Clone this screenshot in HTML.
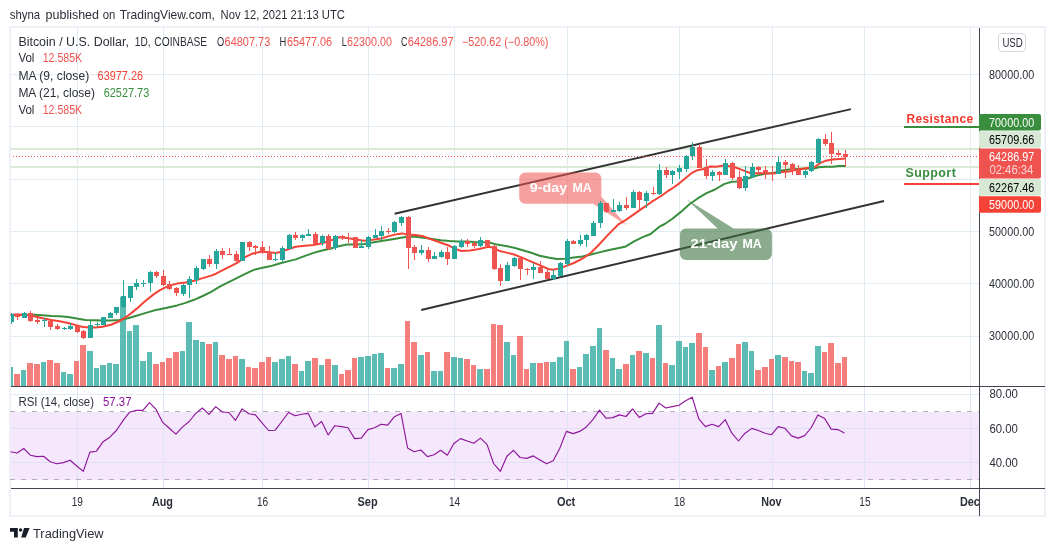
<!DOCTYPE html>
<html><head><meta charset="utf-8"><title>BTCUSD chart</title>
<style>html,body{margin:0;padding:0;background:#fff}svg{display:block}</style></head>
<body>
<svg width="1055" height="551" viewBox="0 0 1055 551" font-family="'Liberation Sans', sans-serif">
<rect width="1055" height="551" fill="#fff"/>
<rect x="10" y="27" width="1035" height="489" fill="#fff" stroke="#eef0f5" stroke-width="2"/>
<g shape-rendering="crispEdges">
<rect x="11" y="412" width="968" height="67.5" fill="#f5e8fd"/>
<rect x="77" y="28" width="1" height="358" fill="#e1ecf2"/>
<rect x="77" y="387" width="1" height="101" fill="#dfe3f3"/>
<rect x="163" y="28" width="1" height="358" fill="#e1ecf2"/>
<rect x="163" y="387" width="1" height="101" fill="#dfe3f3"/>
<rect x="262" y="28" width="1" height="358" fill="#e1ecf2"/>
<rect x="262" y="387" width="1" height="101" fill="#dfe3f3"/>
<rect x="368" y="28" width="1" height="358" fill="#e1ecf2"/>
<rect x="368" y="387" width="1" height="101" fill="#dfe3f3"/>
<rect x="454" y="28" width="1" height="358" fill="#e1ecf2"/>
<rect x="454" y="387" width="1" height="101" fill="#dfe3f3"/>
<rect x="567" y="28" width="1" height="358" fill="#e1ecf2"/>
<rect x="567" y="387" width="1" height="101" fill="#dfe3f3"/>
<rect x="679" y="28" width="1" height="358" fill="#e1ecf2"/>
<rect x="679" y="387" width="1" height="101" fill="#dfe3f3"/>
<rect x="772" y="28" width="1" height="358" fill="#e1ecf2"/>
<rect x="772" y="387" width="1" height="101" fill="#dfe3f3"/>
<rect x="864" y="28" width="1" height="358" fill="#e1ecf2"/>
<rect x="864" y="387" width="1" height="101" fill="#dfe3f3"/>
<rect x="970" y="28" width="1" height="358" fill="#e1ecf2"/>
<rect x="970" y="387" width="1" height="101" fill="#dfe3f3"/>
<rect x="11" y="74" width="968" height="1" fill="#e1ecf2"/>
<rect x="11" y="126" width="968" height="1" fill="#e1ecf2"/>
<rect x="11" y="179" width="968" height="1" fill="#e1ecf2"/>
<rect x="11" y="231" width="968" height="1" fill="#e1ecf2"/>
<rect x="11" y="283" width="968" height="1" fill="#e1ecf2"/>
<rect x="11" y="336" width="968" height="1" fill="#e1ecf2"/>
<rect x="11" y="394" width="968" height="1" fill="#e1ecf2"/>
<rect x="11" y="428" width="968" height="1" fill="#dfe0f5"/>
<rect x="11" y="462" width="968" height="1" fill="#dfe0f5"/>
</g>
<line x1="10" y1="411.5" x2="979" y2="411.5" stroke="#b0b0b6" stroke-width="1" stroke-dasharray="5 6" shape-rendering="crispEdges"/>
<line x1="10" y1="479.5" x2="979" y2="479.5" stroke="#b0b0b6" stroke-width="1" stroke-dasharray="5 6" shape-rendering="crispEdges"/>
<rect x="11" y="148" width="968" height="2" fill="#d9ead5"/>
<rect x="11" y="166" width="968" height="2" fill="#d9ead5"/>
<line x1="394.6" y1="213.8" x2="851" y2="109.1" stroke="#333" stroke-width="2"/>
<line x1="421.2" y1="310" x2="884" y2="201" stroke="#333" stroke-width="2"/>
<path d="M525.2 172.6 H595.4 a6 6 0 0 1 6 6 V196.8 L626.8 225.6 L593.2 203.8 H525.2 a6 6 0 0 1 -6 -6 V178.6 a6 6 0 0 1 6 -6 Z" fill="rgba(239,83,80,0.55)"/>
<path d="M685.9 228.5 H717.7 L686.5 199.3 L733.6 228.5 H765.9 a6 6 0 0 1 6 6 V254.1 a6 6 0 0 1 -6 6 H685.9 a6 6 0 0 1 -6 -6 V234.5 a6 6 0 0 1 6 -6 Z" fill="rgba(56,112,60,0.59)"/>
<text x="529.8" y="191.8" font-size="12" font-weight="bold" fill="#fff" textLength="37.4" lengthAdjust="spacingAndGlyphs">9-day</text>
<text x="572.4" y="191.8" font-size="12" font-weight="bold" fill="#fff" textLength="19.4" lengthAdjust="spacingAndGlyphs">MA</text>
<text x="690.4" y="247.7" font-size="12" font-weight="bold" fill="#fff" textLength="47.2" lengthAdjust="spacingAndGlyphs">21-day</text>
<text x="742.5" y="247.7" font-size="12" font-weight="bold" fill="#fff" textLength="19.3" lengthAdjust="spacingAndGlyphs">MA</text>
<g shape-rendering="crispEdges">
<rect x="11" y="367" width="2" height="19" fill="rgba(38,166,154,0.75)"/>
<rect x="14" y="374" width="6" height="12" fill="rgba(239,83,80,0.75)"/>
<rect x="21" y="370" width="5" height="16" fill="rgba(38,166,154,0.75)"/>
<rect x="27" y="363" width="6" height="23" fill="rgba(239,83,80,0.75)"/>
<rect x="34" y="364" width="6" height="22" fill="rgba(239,83,80,0.75)"/>
<rect x="41" y="362" width="5" height="24" fill="rgba(38,166,154,0.75)"/>
<rect x="47" y="360" width="6" height="26" fill="rgba(239,83,80,0.75)"/>
<rect x="54" y="363" width="6" height="23" fill="rgba(239,83,80,0.75)"/>
<rect x="61" y="372" width="5" height="14" fill="rgba(38,166,154,0.75)"/>
<rect x="67" y="374" width="6" height="12" fill="rgba(38,166,154,0.75)"/>
<rect x="74" y="361" width="5" height="25" fill="rgba(239,83,80,0.75)"/>
<rect x="80" y="345" width="6" height="41" fill="rgba(239,83,80,0.75)"/>
<rect x="87" y="351" width="6" height="35" fill="rgba(38,166,154,0.75)"/>
<rect x="94" y="368" width="5" height="18" fill="rgba(38,166,154,0.75)"/>
<rect x="100" y="365" width="6" height="21" fill="rgba(38,166,154,0.75)"/>
<rect x="107" y="363" width="5" height="23" fill="rgba(38,166,154,0.75)"/>
<rect x="113" y="364" width="6" height="22" fill="rgba(38,166,154,0.75)"/>
<rect x="120" y="297" width="6" height="89" fill="rgba(38,166,154,0.75)"/>
<rect x="127" y="331" width="5" height="55" fill="rgba(38,166,154,0.75)"/>
<rect x="133" y="325" width="6" height="61" fill="rgba(38,166,154,0.75)"/>
<rect x="140" y="361" width="6" height="25" fill="rgba(38,166,154,0.75)"/>
<rect x="147" y="352" width="5" height="34" fill="rgba(38,166,154,0.75)"/>
<rect x="153" y="364" width="6" height="22" fill="rgba(239,83,80,0.75)"/>
<rect x="160" y="362" width="5" height="24" fill="rgba(239,83,80,0.75)"/>
<rect x="166" y="358" width="6" height="28" fill="rgba(239,83,80,0.75)"/>
<rect x="173" y="352" width="6" height="34" fill="rgba(239,83,80,0.75)"/>
<rect x="180" y="351" width="5" height="35" fill="rgba(38,166,154,0.75)"/>
<rect x="186" y="322" width="6" height="64" fill="rgba(38,166,154,0.75)"/>
<rect x="193" y="340" width="6" height="46" fill="rgba(38,166,154,0.75)"/>
<rect x="200" y="342" width="5" height="44" fill="rgba(38,166,154,0.75)"/>
<rect x="206" y="344" width="6" height="42" fill="rgba(239,83,80,0.75)"/>
<rect x="213" y="342" width="5" height="44" fill="rgba(38,166,154,0.75)"/>
<rect x="219" y="355" width="6" height="31" fill="rgba(239,83,80,0.75)"/>
<rect x="226" y="359" width="6" height="27" fill="rgba(239,83,80,0.75)"/>
<rect x="233" y="356" width="5" height="30" fill="rgba(239,83,80,0.75)"/>
<rect x="239" y="359" width="6" height="27" fill="rgba(38,166,154,0.75)"/>
<rect x="246" y="367" width="5" height="19" fill="rgba(239,83,80,0.75)"/>
<rect x="252" y="368" width="6" height="18" fill="rgba(239,83,80,0.75)"/>
<rect x="259" y="362" width="6" height="24" fill="rgba(239,83,80,0.75)"/>
<rect x="266" y="357" width="5" height="29" fill="rgba(239,83,80,0.75)"/>
<rect x="272" y="362" width="6" height="24" fill="rgba(38,166,154,0.75)"/>
<rect x="279" y="359" width="6" height="27" fill="rgba(38,166,154,0.75)"/>
<rect x="286" y="356" width="5" height="30" fill="rgba(38,166,154,0.75)"/>
<rect x="292" y="364" width="6" height="22" fill="rgba(239,83,80,0.75)"/>
<rect x="299" y="371" width="5" height="15" fill="rgba(38,166,154,0.75)"/>
<rect x="305" y="361" width="6" height="25" fill="rgba(38,166,154,0.75)"/>
<rect x="312" y="358" width="6" height="28" fill="rgba(239,83,80,0.75)"/>
<rect x="319" y="365" width="5" height="21" fill="rgba(38,166,154,0.75)"/>
<rect x="325" y="359" width="6" height="27" fill="rgba(239,83,80,0.75)"/>
<rect x="332" y="365" width="6" height="21" fill="rgba(38,166,154,0.75)"/>
<rect x="339" y="374" width="5" height="12" fill="rgba(239,83,80,0.75)"/>
<rect x="345" y="370" width="6" height="16" fill="rgba(239,83,80,0.75)"/>
<rect x="352" y="358" width="5" height="28" fill="rgba(239,83,80,0.75)"/>
<rect x="358" y="357" width="6" height="29" fill="rgba(38,166,154,0.75)"/>
<rect x="365" y="356" width="6" height="30" fill="rgba(38,166,154,0.75)"/>
<rect x="372" y="354" width="5" height="32" fill="rgba(38,166,154,0.75)"/>
<rect x="378" y="353" width="6" height="33" fill="rgba(38,166,154,0.75)"/>
<rect x="385" y="368" width="5" height="18" fill="rgba(239,83,80,0.75)"/>
<rect x="391" y="368" width="6" height="18" fill="rgba(38,166,154,0.75)"/>
<rect x="398" y="364" width="6" height="22" fill="rgba(38,166,154,0.75)"/>
<rect x="405" y="321" width="5" height="65" fill="rgba(239,83,80,0.75)"/>
<rect x="411" y="342" width="6" height="44" fill="rgba(239,83,80,0.75)"/>
<rect x="418" y="355" width="6" height="31" fill="rgba(38,166,154,0.75)"/>
<rect x="425" y="352" width="5" height="34" fill="rgba(239,83,80,0.75)"/>
<rect x="431" y="371" width="6" height="15" fill="rgba(38,166,154,0.75)"/>
<rect x="438" y="371" width="5" height="15" fill="rgba(38,166,154,0.75)"/>
<rect x="444" y="352" width="6" height="34" fill="rgba(239,83,80,0.75)"/>
<rect x="451" y="357" width="6" height="29" fill="rgba(38,166,154,0.75)"/>
<rect x="458" y="358" width="5" height="28" fill="rgba(38,166,154,0.75)"/>
<rect x="464" y="359" width="6" height="27" fill="rgba(239,83,80,0.75)"/>
<rect x="471" y="365" width="5" height="21" fill="rgba(239,83,80,0.75)"/>
<rect x="477" y="369" width="6" height="17" fill="rgba(38,166,154,0.75)"/>
<rect x="484" y="369" width="6" height="17" fill="rgba(239,83,80,0.75)"/>
<rect x="491" y="324" width="5" height="62" fill="rgba(239,83,80,0.75)"/>
<rect x="497" y="325" width="6" height="61" fill="rgba(239,83,80,0.75)"/>
<rect x="504" y="342" width="6" height="44" fill="rgba(38,166,154,0.75)"/>
<rect x="511" y="355" width="5" height="31" fill="rgba(38,166,154,0.75)"/>
<rect x="517" y="336" width="6" height="50" fill="rgba(239,83,80,0.75)"/>
<rect x="524" y="369" width="5" height="17" fill="rgba(239,83,80,0.75)"/>
<rect x="530" y="363" width="6" height="23" fill="rgba(38,166,154,0.75)"/>
<rect x="537" y="363" width="6" height="23" fill="rgba(239,83,80,0.75)"/>
<rect x="544" y="362" width="5" height="24" fill="rgba(239,83,80,0.75)"/>
<rect x="550" y="362" width="6" height="24" fill="rgba(38,166,154,0.75)"/>
<rect x="557" y="357" width="6" height="29" fill="rgba(38,166,154,0.75)"/>
<rect x="564" y="341" width="5" height="45" fill="rgba(38,166,154,0.75)"/>
<rect x="570" y="369" width="6" height="17" fill="rgba(239,83,80,0.75)"/>
<rect x="577" y="367" width="5" height="19" fill="rgba(38,166,154,0.75)"/>
<rect x="583" y="354" width="6" height="32" fill="rgba(38,166,154,0.75)"/>
<rect x="590" y="346" width="6" height="40" fill="rgba(38,166,154,0.75)"/>
<rect x="597" y="328" width="5" height="58" fill="rgba(38,166,154,0.75)"/>
<rect x="603" y="350" width="6" height="36" fill="rgba(239,83,80,0.75)"/>
<rect x="610" y="358" width="5" height="28" fill="rgba(38,166,154,0.75)"/>
<rect x="616" y="369" width="6" height="17" fill="rgba(38,166,154,0.75)"/>
<rect x="623" y="364" width="6" height="22" fill="rgba(239,83,80,0.75)"/>
<rect x="630" y="355" width="5" height="31" fill="rgba(38,166,154,0.75)"/>
<rect x="636" y="351" width="6" height="35" fill="rgba(239,83,80,0.75)"/>
<rect x="643" y="353" width="6" height="33" fill="rgba(38,166,154,0.75)"/>
<rect x="650" y="358" width="5" height="28" fill="rgba(239,83,80,0.75)"/>
<rect x="656" y="325" width="6" height="61" fill="rgba(38,166,154,0.75)"/>
<rect x="663" y="363" width="5" height="23" fill="rgba(239,83,80,0.75)"/>
<rect x="669" y="365" width="6" height="21" fill="rgba(38,166,154,0.75)"/>
<rect x="676" y="341" width="6" height="45" fill="rgba(38,166,154,0.75)"/>
<rect x="683" y="347" width="5" height="39" fill="rgba(38,166,154,0.75)"/>
<rect x="689" y="343" width="6" height="43" fill="rgba(38,166,154,0.75)"/>
<rect x="696" y="333" width="6" height="53" fill="rgba(239,83,80,0.75)"/>
<rect x="703" y="347" width="5" height="39" fill="rgba(239,83,80,0.75)"/>
<rect x="709" y="370" width="6" height="16" fill="rgba(38,166,154,0.75)"/>
<rect x="716" y="366" width="5" height="20" fill="rgba(239,83,80,0.75)"/>
<rect x="722" y="362" width="6" height="24" fill="rgba(38,166,154,0.75)"/>
<rect x="729" y="358" width="6" height="28" fill="rgba(239,83,80,0.75)"/>
<rect x="736" y="344" width="5" height="42" fill="rgba(239,83,80,0.75)"/>
<rect x="742" y="342" width="6" height="44" fill="rgba(38,166,154,0.75)"/>
<rect x="749" y="351" width="5" height="35" fill="rgba(38,166,154,0.75)"/>
<rect x="755" y="370" width="6" height="16" fill="rgba(239,83,80,0.75)"/>
<rect x="762" y="367" width="6" height="19" fill="rgba(239,83,80,0.75)"/>
<rect x="769" y="359" width="5" height="27" fill="rgba(239,83,80,0.75)"/>
<rect x="775" y="355" width="6" height="31" fill="rgba(38,166,154,0.75)"/>
<rect x="782" y="357" width="6" height="29" fill="rgba(239,83,80,0.75)"/>
<rect x="789" y="361" width="5" height="25" fill="rgba(239,83,80,0.75)"/>
<rect x="795" y="362" width="6" height="24" fill="rgba(239,83,80,0.75)"/>
<rect x="802" y="371" width="5" height="15" fill="rgba(38,166,154,0.75)"/>
<rect x="808" y="373" width="6" height="13" fill="rgba(38,166,154,0.75)"/>
<rect x="815" y="346" width="6" height="40" fill="rgba(38,166,154,0.75)"/>
<rect x="822" y="352" width="5" height="34" fill="rgba(239,83,80,0.75)"/>
<rect x="828" y="343" width="6" height="43" fill="rgba(239,83,80,0.75)"/>
<rect x="835" y="363" width="6" height="23" fill="rgba(239,83,80,0.75)"/>
<rect x="842" y="357" width="5" height="29" fill="rgba(239,83,80,0.75)"/>
</g>
<line x1="11" y1="156.5" x2="979" y2="156.5" stroke="#ef5350" stroke-width="1" stroke-dasharray="1 2" stroke-dashoffset="1"/>
<polyline points="10.6,315.3 25.6,314.8 34.1,314.8 42.7,315.3 51.2,315.9 59.7,316.2 68.2,316.9 76.8,318.6 85.3,320.0 93.8,320.3 102.4,320.5 110.9,320.5 119.4,320.0 128.0,318.2 136.5,315.7 145.0,313.1 153.6,310.6 163.4,308.5 177.1,305.4 185.6,302.9 194.1,299.8 202.7,296.0 211.2,291.8 219.7,286.7 228.2,282.4 236.8,278.1 245.2,273.9 253.8,269.9 261.4,268.0 270.8,266.1 280.3,263.2 289.8,260.9 295.7,259.4 305.0,255.9 313.6,252.9 322.1,250.5 330.0,248.7 338.5,246.2 347.1,244.5 355.6,244.5 364.1,244.0 372.7,242.4 381.2,241.1 389.7,239.7 398.2,238.2 406.8,236.8 415.3,236.8 423.8,237.7 432.4,239.0 440.9,240.2 449.4,241.1 458.0,241.4 466.5,241.4 475.0,241.9 488.5,242.2 497.1,244.6 505.6,245.9 514.1,247.7 522.7,250.2 531.2,252.8 539.7,255.7 548.2,257.6 556.8,259.1 565.3,258.7 573.8,257.6 582.4,256.5 590.9,254.5 599.4,252.4 608.0,250.2 616.5,248.5 625.0,246.8 633.6,241.7 642.1,237.4 650.6,234.0 660.0,226.3 664.7,224.0 672.4,218.7 680.9,211.9 689.4,204.2 698.0,198.2 706.5,193.1 715.0,189.5 724.5,183.9 732.1,181.8 736.8,181.5 748.2,178.2 757.7,175.3 765.2,173.7 773.8,173.0 781.4,170.6 788.9,169.5 796.5,168.9 804.1,168.7 815.0,168.2 818.7,167.2 825.5,166.8 832.4,166.8 839.2,166.0 845.7,165.9" fill="none" stroke="#388e3c" stroke-width="2" stroke-linejoin="round"/>
<polyline points="10.6,314.8 17.1,314.5 25.6,314.8 34.1,316.2 42.7,318.2 51.2,320.0 59.7,321.3 68.2,323.0 76.8,325.4 81.9,326.8 88.7,327.6 95.5,327.6 102.4,326.8 110.9,324.7 119.4,321.3 128.0,315.7 136.5,308.9 145.0,301.2 153.6,294.4 160.0,290.1 168.5,285.8 177.1,283.6 185.6,282.4 194.1,280.7 202.7,278.1 211.2,275.6 215.9,273.7 226.3,268.4 236.7,263.2 245.2,257.1 251.9,253.8 259.5,252.1 267.0,251.9 275.6,253.1 280.3,252.1 286.0,250.0 295.7,246.7 305.0,245.7 313.6,244.9 322.1,243.2 330.6,240.6 338.5,237.3 347.1,238.0 355.6,239.4 364.1,240.7 372.7,239.7 381.2,238.5 389.7,235.9 398.2,233.9 402.5,233.4 406.8,234.6 415.3,235.1 422.1,235.9 432.4,239.7 440.9,242.8 449.4,245.8 456.3,249.3 461.4,251.0 469.9,250.5 479.2,248.9 488.5,246.8 493.6,247.7 498.8,250.7 505.6,252.4 514.1,254.5 522.7,257.9 531.2,261.6 539.7,265.1 548.2,269.0 553.4,269.8 560.2,268.1 567.0,265.6 573.8,263.0 582.4,258.7 590.9,252.8 599.4,244.2 608.0,234.9 618.0,224.7 626.3,219.6 634.8,213.6 643.4,207.6 651.9,201.7 660.4,196.5 667.7,191.2 672.4,188.3 679.0,183.6 685.7,177.9 691.4,173.2 697.0,170.3 703.7,168.9 710.3,166.5 716.0,166.8 723.6,165.6 728.3,165.9 734.9,167.3 742.5,170.1 750.1,173.0 757.7,173.2 765.2,173.2 773.8,173.4 781.4,172.0 788.9,171.5 796.5,169.8 804.1,168.5 809.8,167.7 815.2,166.7 820.4,162.9 825.5,160.8 832.4,159.5 839.2,159.0 845.7,158.4" fill="none" stroke="#f44336" stroke-width="2" stroke-linejoin="round"/>
<g shape-rendering="crispEdges">
<rect x="11" y="313" width="1" height="11" fill="#26a69a"/>
<rect x="11" y="314" width="3" height="8" fill="#26a69a"/>
<rect x="17" y="313" width="1" height="7" fill="#ef5350"/>
<rect x="15" y="314" width="5" height="3" fill="#ef5350"/>
<rect x="24" y="312" width="1" height="6" fill="#26a69a"/>
<rect x="22" y="313" width="5" height="5" fill="#26a69a"/>
<rect x="30" y="311" width="1" height="11" fill="#ef5350"/>
<rect x="28" y="313" width="5" height="8" fill="#ef5350"/>
<rect x="37" y="318" width="1" height="6" fill="#ef5350"/>
<rect x="35" y="320" width="5" height="2" fill="#ef5350"/>
<rect x="44" y="318" width="1" height="9" fill="#26a69a"/>
<rect x="42" y="320" width="5" height="1" fill="#26a69a"/>
<rect x="50" y="320" width="1" height="10" fill="#ef5350"/>
<rect x="48" y="321" width="5" height="6" fill="#ef5350"/>
<rect x="57" y="324" width="1" height="6" fill="#ef5350"/>
<rect x="55" y="326" width="5" height="3" fill="#ef5350"/>
<rect x="64" y="327" width="1" height="3" fill="#26a69a"/>
<rect x="62" y="328" width="5" height="1" fill="#26a69a"/>
<rect x="70" y="323" width="1" height="7" fill="#26a69a"/>
<rect x="68" y="326" width="5" height="3" fill="#26a69a"/>
<rect x="77" y="325" width="1" height="8" fill="#ef5350"/>
<rect x="75" y="326" width="5" height="6" fill="#ef5350"/>
<rect x="83" y="330" width="1" height="9" fill="#ef5350"/>
<rect x="81" y="331" width="5" height="7" fill="#ef5350"/>
<rect x="90" y="321" width="1" height="17" fill="#26a69a"/>
<rect x="88" y="325" width="5" height="13" fill="#26a69a"/>
<rect x="97" y="322" width="1" height="5" fill="#26a69a"/>
<rect x="95" y="324" width="5" height="1" fill="#26a69a"/>
<rect x="103" y="317" width="1" height="8" fill="#26a69a"/>
<rect x="101" y="317" width="5" height="8" fill="#26a69a"/>
<rect x="110" y="312" width="1" height="6" fill="#26a69a"/>
<rect x="108" y="313" width="5" height="5" fill="#26a69a"/>
<rect x="116" y="307" width="1" height="8" fill="#26a69a"/>
<rect x="114" y="307" width="5" height="6" fill="#26a69a"/>
<rect x="123" y="280" width="1" height="28" fill="#26a69a"/>
<rect x="121" y="296" width="5" height="11" fill="#26a69a"/>
<rect x="130" y="286" width="1" height="16" fill="#26a69a"/>
<rect x="128" y="286" width="5" height="12" fill="#26a69a"/>
<rect x="136" y="279" width="1" height="11" fill="#26a69a"/>
<rect x="134" y="283" width="5" height="4" fill="#26a69a"/>
<rect x="143" y="280" width="1" height="7" fill="#26a69a"/>
<rect x="141" y="283" width="5" height="1" fill="#26a69a"/>
<rect x="150" y="271" width="1" height="21" fill="#26a69a"/>
<rect x="148" y="272" width="5" height="11" fill="#26a69a"/>
<rect x="156" y="271" width="1" height="7" fill="#ef5350"/>
<rect x="154" y="272" width="5" height="4" fill="#ef5350"/>
<rect x="163" y="270" width="1" height="16" fill="#ef5350"/>
<rect x="161" y="276" width="5" height="9" fill="#ef5350"/>
<rect x="169" y="281" width="1" height="9" fill="#ef5350"/>
<rect x="167" y="284" width="5" height="5" fill="#ef5350"/>
<rect x="176" y="287" width="1" height="9" fill="#ef5350"/>
<rect x="174" y="288" width="5" height="5" fill="#ef5350"/>
<rect x="183" y="284" width="1" height="12" fill="#26a69a"/>
<rect x="181" y="285" width="5" height="9" fill="#26a69a"/>
<rect x="189" y="276" width="1" height="22" fill="#26a69a"/>
<rect x="187" y="279" width="5" height="6" fill="#26a69a"/>
<rect x="196" y="266" width="1" height="18" fill="#26a69a"/>
<rect x="194" y="268" width="5" height="12" fill="#26a69a"/>
<rect x="203" y="259" width="1" height="11" fill="#26a69a"/>
<rect x="201" y="259" width="5" height="10" fill="#26a69a"/>
<rect x="209" y="255" width="1" height="12" fill="#ef5350"/>
<rect x="207" y="259" width="5" height="5" fill="#ef5350"/>
<rect x="216" y="249" width="1" height="20" fill="#26a69a"/>
<rect x="214" y="251" width="5" height="13" fill="#26a69a"/>
<rect x="222" y="248" width="1" height="11" fill="#ef5350"/>
<rect x="220" y="251" width="5" height="4" fill="#ef5350"/>
<rect x="229" y="248" width="1" height="7" fill="#ef5350"/>
<rect x="227" y="254" width="5" height="1" fill="#ef5350"/>
<rect x="236" y="251" width="1" height="11" fill="#ef5350"/>
<rect x="234" y="254" width="5" height="7" fill="#ef5350"/>
<rect x="242" y="242" width="1" height="19" fill="#26a69a"/>
<rect x="240" y="242" width="5" height="19" fill="#26a69a"/>
<rect x="249" y="241" width="1" height="10" fill="#ef5350"/>
<rect x="247" y="242" width="5" height="5" fill="#ef5350"/>
<rect x="255" y="245" width="1" height="10" fill="#ef5350"/>
<rect x="253" y="246" width="5" height="2" fill="#ef5350"/>
<rect x="262" y="241" width="1" height="13" fill="#ef5350"/>
<rect x="260" y="247" width="5" height="6" fill="#ef5350"/>
<rect x="269" y="246" width="1" height="14" fill="#ef5350"/>
<rect x="267" y="252" width="5" height="8" fill="#ef5350"/>
<rect x="275" y="252" width="1" height="9" fill="#26a69a"/>
<rect x="273" y="259" width="5" height="1" fill="#26a69a"/>
<rect x="282" y="246" width="1" height="16" fill="#26a69a"/>
<rect x="280" y="248" width="5" height="12" fill="#26a69a"/>
<rect x="289" y="234" width="1" height="15" fill="#26a69a"/>
<rect x="287" y="235" width="5" height="14" fill="#26a69a"/>
<rect x="295" y="232" width="1" height="8" fill="#ef5350"/>
<rect x="293" y="235" width="5" height="3" fill="#ef5350"/>
<rect x="302" y="234" width="1" height="7" fill="#26a69a"/>
<rect x="300" y="235" width="5" height="3" fill="#26a69a"/>
<rect x="308" y="229" width="1" height="7" fill="#26a69a"/>
<rect x="306" y="234" width="5" height="2" fill="#26a69a"/>
<rect x="315" y="232" width="1" height="12" fill="#ef5350"/>
<rect x="313" y="234" width="5" height="10" fill="#ef5350"/>
<rect x="322" y="235" width="1" height="11" fill="#26a69a"/>
<rect x="320" y="236" width="5" height="7" fill="#26a69a"/>
<rect x="328" y="234" width="1" height="16" fill="#ef5350"/>
<rect x="326" y="236" width="5" height="13" fill="#ef5350"/>
<rect x="335" y="235" width="1" height="15" fill="#26a69a"/>
<rect x="333" y="236" width="5" height="12" fill="#26a69a"/>
<rect x="342" y="235" width="1" height="5" fill="#ef5350"/>
<rect x="340" y="236" width="5" height="2" fill="#ef5350"/>
<rect x="348" y="233" width="1" height="10" fill="#ef5350"/>
<rect x="346" y="238" width="5" height="1" fill="#ef5350"/>
<rect x="355" y="237" width="1" height="11" fill="#ef5350"/>
<rect x="353" y="237" width="5" height="11" fill="#ef5350"/>
<rect x="361" y="240" width="1" height="8" fill="#26a69a"/>
<rect x="359" y="246" width="5" height="2" fill="#26a69a"/>
<rect x="368" y="236" width="1" height="13" fill="#26a69a"/>
<rect x="366" y="237" width="5" height="10" fill="#26a69a"/>
<rect x="375" y="229" width="1" height="9" fill="#26a69a"/>
<rect x="373" y="235" width="5" height="3" fill="#26a69a"/>
<rect x="381" y="226" width="1" height="14" fill="#26a69a"/>
<rect x="379" y="231" width="5" height="5" fill="#26a69a"/>
<rect x="388" y="228" width="1" height="6" fill="#ef5350"/>
<rect x="386" y="231" width="5" height="1" fill="#ef5350"/>
<rect x="394" y="221" width="1" height="12" fill="#26a69a"/>
<rect x="392" y="222" width="5" height="10" fill="#26a69a"/>
<rect x="401" y="216" width="1" height="10" fill="#26a69a"/>
<rect x="399" y="217" width="5" height="6" fill="#26a69a"/>
<rect x="408" y="216" width="1" height="53" fill="#ef5350"/>
<rect x="406" y="217" width="5" height="31" fill="#ef5350"/>
<rect x="414" y="245" width="1" height="15" fill="#ef5350"/>
<rect x="412" y="247" width="5" height="6" fill="#ef5350"/>
<rect x="421" y="245" width="1" height="10" fill="#26a69a"/>
<rect x="419" y="250" width="5" height="3" fill="#26a69a"/>
<rect x="428" y="247" width="1" height="15" fill="#ef5350"/>
<rect x="426" y="250" width="5" height="9" fill="#ef5350"/>
<rect x="434" y="252" width="1" height="7" fill="#26a69a"/>
<rect x="432" y="256" width="5" height="3" fill="#26a69a"/>
<rect x="441" y="250" width="1" height="8" fill="#26a69a"/>
<rect x="439" y="252" width="5" height="5" fill="#26a69a"/>
<rect x="447" y="247" width="1" height="18" fill="#ef5350"/>
<rect x="445" y="252" width="5" height="7" fill="#ef5350"/>
<rect x="454" y="245" width="1" height="14" fill="#26a69a"/>
<rect x="452" y="246" width="5" height="13" fill="#26a69a"/>
<rect x="461" y="239" width="1" height="9" fill="#26a69a"/>
<rect x="459" y="241" width="5" height="6" fill="#26a69a"/>
<rect x="467" y="239" width="1" height="8" fill="#ef5350"/>
<rect x="465" y="241" width="5" height="3" fill="#ef5350"/>
<rect x="474" y="241" width="1" height="7" fill="#ef5350"/>
<rect x="472" y="243" width="5" height="3" fill="#ef5350"/>
<rect x="480" y="237" width="1" height="10" fill="#26a69a"/>
<rect x="478" y="240" width="5" height="6" fill="#26a69a"/>
<rect x="487" y="240" width="1" height="6" fill="#ef5350"/>
<rect x="485" y="240" width="5" height="6" fill="#ef5350"/>
<rect x="494" y="245" width="1" height="25" fill="#ef5350"/>
<rect x="492" y="246" width="5" height="23" fill="#ef5350"/>
<rect x="500" y="264" width="1" height="22" fill="#ef5350"/>
<rect x="498" y="268" width="5" height="13" fill="#ef5350"/>
<rect x="507" y="262" width="1" height="19" fill="#26a69a"/>
<rect x="505" y="265" width="5" height="16" fill="#26a69a"/>
<rect x="514" y="257" width="1" height="10" fill="#26a69a"/>
<rect x="512" y="258" width="5" height="8" fill="#26a69a"/>
<rect x="520" y="256" width="1" height="24" fill="#ef5350"/>
<rect x="518" y="258" width="5" height="11" fill="#ef5350"/>
<rect x="527" y="268" width="1" height="7" fill="#ef5350"/>
<rect x="525" y="269" width="5" height="1" fill="#ef5350"/>
<rect x="533" y="263" width="1" height="16" fill="#26a69a"/>
<rect x="531" y="267" width="5" height="3" fill="#26a69a"/>
<rect x="540" y="261" width="1" height="12" fill="#ef5350"/>
<rect x="538" y="267" width="5" height="6" fill="#ef5350"/>
<rect x="547" y="270" width="1" height="9" fill="#ef5350"/>
<rect x="545" y="272" width="5" height="7" fill="#ef5350"/>
<rect x="553" y="270" width="1" height="10" fill="#26a69a"/>
<rect x="551" y="275" width="5" height="4" fill="#26a69a"/>
<rect x="560" y="262" width="1" height="14" fill="#26a69a"/>
<rect x="558" y="263" width="5" height="13" fill="#26a69a"/>
<rect x="567" y="239" width="1" height="27" fill="#26a69a"/>
<rect x="565" y="241" width="5" height="23" fill="#26a69a"/>
<rect x="573" y="240" width="1" height="4" fill="#ef5350"/>
<rect x="571" y="241" width="5" height="3" fill="#ef5350"/>
<rect x="580" y="235" width="1" height="11" fill="#26a69a"/>
<rect x="578" y="240" width="5" height="4" fill="#26a69a"/>
<rect x="586" y="234" width="1" height="13" fill="#26a69a"/>
<rect x="584" y="235" width="5" height="5" fill="#26a69a"/>
<rect x="593" y="221" width="1" height="15" fill="#26a69a"/>
<rect x="591" y="223" width="5" height="13" fill="#26a69a"/>
<rect x="600" y="201" width="1" height="27" fill="#26a69a"/>
<rect x="598" y="203" width="5" height="20" fill="#26a69a"/>
<rect x="606" y="203" width="1" height="10" fill="#ef5350"/>
<rect x="604" y="203" width="5" height="9" fill="#ef5350"/>
<rect x="613" y="199" width="1" height="13" fill="#26a69a"/>
<rect x="611" y="210" width="5" height="2" fill="#26a69a"/>
<rect x="619" y="202" width="1" height="10" fill="#26a69a"/>
<rect x="617" y="205" width="5" height="6" fill="#26a69a"/>
<rect x="626" y="197" width="1" height="13" fill="#ef5350"/>
<rect x="624" y="205" width="5" height="3" fill="#ef5350"/>
<rect x="633" y="190" width="1" height="18" fill="#26a69a"/>
<rect x="631" y="192" width="5" height="16" fill="#26a69a"/>
<rect x="639" y="191" width="1" height="19" fill="#ef5350"/>
<rect x="637" y="192" width="5" height="8" fill="#ef5350"/>
<rect x="646" y="191" width="1" height="17" fill="#26a69a"/>
<rect x="644" y="193" width="5" height="8" fill="#26a69a"/>
<rect x="653" y="187" width="1" height="8" fill="#ef5350"/>
<rect x="651" y="193" width="5" height="1" fill="#ef5350"/>
<rect x="659" y="164" width="1" height="31" fill="#26a69a"/>
<rect x="657" y="170" width="5" height="24" fill="#26a69a"/>
<rect x="666" y="167" width="1" height="11" fill="#ef5350"/>
<rect x="664" y="170" width="5" height="5" fill="#ef5350"/>
<rect x="672" y="170" width="1" height="14" fill="#26a69a"/>
<rect x="670" y="171" width="5" height="4" fill="#26a69a"/>
<rect x="679" y="165" width="1" height="14" fill="#26a69a"/>
<rect x="677" y="168" width="5" height="4" fill="#26a69a"/>
<rect x="686" y="155" width="1" height="17" fill="#26a69a"/>
<rect x="684" y="156" width="5" height="13" fill="#26a69a"/>
<rect x="692" y="142" width="1" height="18" fill="#26a69a"/>
<rect x="690" y="147" width="5" height="9" fill="#26a69a"/>
<rect x="699" y="144" width="1" height="24" fill="#ef5350"/>
<rect x="697" y="147" width="5" height="21" fill="#ef5350"/>
<rect x="706" y="159" width="1" height="20" fill="#ef5350"/>
<rect x="704" y="167" width="5" height="9" fill="#ef5350"/>
<rect x="712" y="170" width="1" height="11" fill="#26a69a"/>
<rect x="710" y="172" width="5" height="4" fill="#26a69a"/>
<rect x="719" y="171" width="1" height="10" fill="#ef5350"/>
<rect x="717" y="172" width="5" height="3" fill="#ef5350"/>
<rect x="725" y="159" width="1" height="16" fill="#26a69a"/>
<rect x="723" y="163" width="5" height="12" fill="#26a69a"/>
<rect x="732" y="162" width="1" height="18" fill="#ef5350"/>
<rect x="730" y="163" width="5" height="15" fill="#ef5350"/>
<rect x="739" y="171" width="1" height="18" fill="#ef5350"/>
<rect x="737" y="177" width="5" height="11" fill="#ef5350"/>
<rect x="745" y="166" width="1" height="25" fill="#26a69a"/>
<rect x="743" y="176" width="5" height="12" fill="#26a69a"/>
<rect x="752" y="163" width="1" height="15" fill="#26a69a"/>
<rect x="750" y="167" width="5" height="10" fill="#26a69a"/>
<rect x="758" y="166" width="1" height="9" fill="#ef5350"/>
<rect x="756" y="167" width="5" height="3" fill="#ef5350"/>
<rect x="765" y="166" width="1" height="13" fill="#ef5350"/>
<rect x="763" y="170" width="5" height="3" fill="#ef5350"/>
<rect x="772" y="166" width="1" height="15" fill="#ef5350"/>
<rect x="770" y="173" width="5" height="1" fill="#ef5350"/>
<rect x="778" y="156" width="1" height="18" fill="#26a69a"/>
<rect x="776" y="162" width="5" height="12" fill="#26a69a"/>
<rect x="785" y="160" width="1" height="18" fill="#ef5350"/>
<rect x="783" y="162" width="5" height="3" fill="#ef5350"/>
<rect x="792" y="163" width="1" height="12" fill="#ef5350"/>
<rect x="790" y="164" width="5" height="7" fill="#ef5350"/>
<rect x="798" y="165" width="1" height="10" fill="#ef5350"/>
<rect x="796" y="170" width="5" height="5" fill="#ef5350"/>
<rect x="805" y="170" width="1" height="8" fill="#26a69a"/>
<rect x="803" y="171" width="5" height="4" fill="#26a69a"/>
<rect x="811" y="161" width="1" height="11" fill="#26a69a"/>
<rect x="809" y="162" width="5" height="9" fill="#26a69a"/>
<rect x="818" y="138" width="1" height="25" fill="#26a69a"/>
<rect x="816" y="139" width="5" height="24" fill="#26a69a"/>
<rect x="825" y="134" width="1" height="12" fill="#ef5350"/>
<rect x="823" y="139" width="5" height="5" fill="#ef5350"/>
<rect x="831" y="132" width="1" height="32" fill="#ef5350"/>
<rect x="829" y="143" width="5" height="11" fill="#ef5350"/>
<rect x="838" y="150" width="1" height="7" fill="#ef5350"/>
<rect x="836" y="153" width="5" height="2" fill="#ef5350"/>
<rect x="845" y="150" width="1" height="17" fill="#ef5350"/>
<rect x="843" y="154" width="5" height="3" fill="#ef5350"/>
</g>
<polyline points="10.5,451.8 17.1,453.0 23.7,448.5 30.3,455.2 37.0,456.6 43.6,456.3 50.2,461.7 56.8,463.8 63.4,462.6 70.1,460.2 76.7,466.0 83.3,471.4 89.9,452.1 96.5,451.2 103.1,441.7 109.8,437.2 116.4,430.5 123.0,420.6 129.6,412.2 136.2,410.3 142.9,410.3 149.5,402.6 156.1,409.4 162.7,422.4 169.3,428.2 175.9,434.1 182.6,426.9 189.2,421.5 195.8,413.4 202.4,408.0 209.0,414.3 215.7,406.6 222.3,412.0 228.9,412.5 235.5,420.3 242.1,408.9 248.8,413.8 255.4,414.9 262.0,422.8 268.6,430.5 275.2,430.2 281.8,421.5 288.5,412.5 295.1,415.8 301.7,414.3 308.3,413.4 314.9,426.9 321.6,421.5 328.2,435.0 334.8,425.7 341.4,426.6 348.0,427.8 354.6,438.6 361.3,438.1 367.9,429.6 374.5,427.8 381.1,424.2 387.7,425.1 394.4,416.7 401.0,413.4 407.6,448.0 414.2,451.8 420.8,450.0 427.5,456.6 434.1,454.8 440.7,450.3 447.3,455.2 453.9,443.5 460.5,438.6 467.2,441.0 473.8,443.3 480.4,438.1 487.0,444.4 493.6,463.5 500.3,471.4 506.9,456.3 513.5,450.3 520.1,457.5 526.7,458.4 533.3,455.9 540.0,459.9 546.6,463.8 553.2,460.8 559.8,448.2 566.4,431.4 573.1,433.6 579.7,431.4 586.3,426.9 592.9,419.7 599.5,410.2 606.2,418.3 612.8,417.6 619.4,414.9 626.0,416.5 632.6,408.9 639.2,417.4 645.9,413.8 652.5,413.4 659.1,403.1 665.7,408.0 672.3,406.6 679.0,405.3 685.6,400.8 692.2,397.2 698.8,418.8 705.4,426.6 712.0,424.2 718.7,426.6 725.3,419.7 731.9,433.2 738.5,441.0 745.1,433.2 751.8,428.4 758.4,430.5 765.0,433.2 771.6,434.7 778.2,426.6 784.9,428.2 791.5,435.9 798.1,438.1 804.7,435.6 811.3,427.5 817.9,414.9 824.6,418.5 831.2,429.1 837.8,429.6 844.4,432.9" fill="none" stroke="#8e1599" stroke-width="1.15" stroke-linejoin="round"/>
<rect x="904" y="126" width="75" height="2" fill="#388e3c"/>
<rect x="904" y="183" width="75" height="2" fill="#f44336"/>
<text x="906.4" y="123.1" font-size="12" font-weight="bold" fill="#f23a2d" textLength="67.3" lengthAdjust="spacingAndGlyphs" letter-spacing="0.4">Resistance</text>
<text x="905.6" y="176.8" font-size="12" font-weight="bold" fill="#388e3c" textLength="50.6" lengthAdjust="spacingAndGlyphs" letter-spacing="0.4">Support</text>
<g shape-rendering="crispEdges">
<rect x="979" y="28" width="1" height="488" fill="#40444f"/>
<rect x="11" y="386" width="1034" height="1" fill="#40444f"/>
<rect x="11" y="488" width="1034" height="1" fill="#40444f"/>
</g>
<path d="M979 114.1 H1039 a2 2 0 0 1 2 2 V128.6 a2 2 0 0 1 -2 2 H979 Z" fill="#388e3c"/>
<text x="989.1" y="126.7" font-size="12" fill="#fff" textLength="45.1" lengthAdjust="spacingAndGlyphs">70000.00</text>
<path d="M979 131.2 H1039 a2 2 0 0 1 2 2 V145.8 a2 2 0 0 1 -2 2 H979 Z" fill="#d7e8d5"/>
<text x="989.1" y="143.5" font-size="12" fill="#000" textLength="45.1" lengthAdjust="spacingAndGlyphs">65709.66</text>
<path d="M979 148.4 H1039 a2 2 0 0 1 2 2 V176.4 a2 2 0 0 1 -2 2 H979 Z" fill="#ef5350"/>
<text x="989.1" y="160.6" font-size="12" fill="#fff" textLength="45.1" lengthAdjust="spacingAndGlyphs">64286.97</text>
<text x="989.4" y="174.1" font-size="12" fill="#fbd5d4" textLength="44" lengthAdjust="spacingAndGlyphs">02:46:34</text>
<path d="M979 179.0 H1039 a2 2 0 0 1 2 2 V193.7 a2 2 0 0 1 -2 2 H979 Z" fill="#d7e8d5"/>
<text x="989.1" y="191.9" font-size="12" fill="#000" textLength="45.1" lengthAdjust="spacingAndGlyphs">62267.46</text>
<path d="M979 196.3 H1039 a2 2 0 0 1 2 2 V210.8 a2 2 0 0 1 -2 2 H979 Z" fill="#f44336"/>
<text x="989.1" y="208.5" font-size="12" fill="#fff" textLength="45.1" lengthAdjust="spacingAndGlyphs">59000.00</text>
<text x="989.1" y="78.5" font-size="12" fill="#2b2f39" textLength="45.1" lengthAdjust="spacingAndGlyphs">80000.00</text>
<text x="989.1" y="235.5" font-size="12" fill="#2b2f39" textLength="45.1" lengthAdjust="spacingAndGlyphs">50000.00</text>
<text x="989.1" y="287.8" font-size="12" fill="#2b2f39" textLength="45.1" lengthAdjust="spacingAndGlyphs">40000.00</text>
<text x="989.1" y="340.2" font-size="12" fill="#2b2f39" textLength="45.1" lengthAdjust="spacingAndGlyphs">30000.00</text>
<text x="989.4" y="398.4" font-size="12" fill="#2b2f39" textLength="28.5" lengthAdjust="spacingAndGlyphs">80.00</text>
<text x="989.4" y="432.5" font-size="12" fill="#2b2f39" textLength="28.5" lengthAdjust="spacingAndGlyphs">60.00</text>
<text x="989.4" y="466.7" font-size="12" fill="#2b2f39" textLength="28.5" lengthAdjust="spacingAndGlyphs">40.00</text>
<rect x="998.5" y="33.5" width="27" height="18" rx="3.5" fill="#fff" stroke="#d6d8e0" stroke-width="1"/>
<text x="1002.4" y="46.8" font-size="12" fill="#2b2f39" textLength="20.4" lengthAdjust="spacingAndGlyphs">USD</text>
<clipPath id="tc"><rect x="11" y="489" width="968" height="26"/></clipPath>
<g clip-path="url(#tc)">
<text x="71.7" y="505.8" font-size="12" fill="#2b2f39" textLength="11.2" lengthAdjust="spacingAndGlyphs">19</text>
<text x="151.9" y="505.8" font-size="12" fill="#2b2f39" font-weight="bold" textLength="21.1" lengthAdjust="spacingAndGlyphs">Aug</text>
<text x="257.0" y="505.8" font-size="12" fill="#2b2f39" textLength="11.2" lengthAdjust="spacingAndGlyphs">16</text>
<text x="357.5" y="505.8" font-size="12" fill="#2b2f39" font-weight="bold" textLength="20.1" lengthAdjust="spacingAndGlyphs">Sep</text>
<text x="448.9" y="505.8" font-size="12" fill="#2b2f39" textLength="11.2" lengthAdjust="spacingAndGlyphs">14</text>
<text x="556.9" y="505.8" font-size="12" fill="#2b2f39" font-weight="bold" textLength="18.4" lengthAdjust="spacingAndGlyphs">Oct</text>
<text x="674.0" y="505.8" font-size="12" fill="#2b2f39" textLength="11.2" lengthAdjust="spacingAndGlyphs">18</text>
<text x="761.2" y="505.8" font-size="12" fill="#2b2f39" font-weight="bold" textLength="20.3" lengthAdjust="spacingAndGlyphs">Nov</text>
<text x="859.3" y="505.8" font-size="12" fill="#2b2f39" textLength="11.2" lengthAdjust="spacingAndGlyphs">15</text>
<text x="959.9" y="505.8" font-size="12" fill="#2b2f39" font-weight="bold" textLength="20.0" lengthAdjust="spacingAndGlyphs">Dec</text>
</g>
<text x="9.7" y="18.6" font-size="12.2" fill="#2b2f39" textLength="30.4" lengthAdjust="spacingAndGlyphs">shyna</text>
<text x="45.6" y="18.6" font-size="12.2" fill="#2b2f39" textLength="53.4" lengthAdjust="spacingAndGlyphs">published</text>
<text x="102.7" y="18.6" font-size="12.2" fill="#2b2f39" textLength="12.6" lengthAdjust="spacingAndGlyphs">on</text>
<text x="119.7" y="18.6" font-size="12.2" fill="#2b2f39" textLength="95.1" lengthAdjust="spacingAndGlyphs">TradingView.com,</text>
<text x="220.6" y="18.6" font-size="12.2" fill="#2b2f39" textLength="124.3" lengthAdjust="spacingAndGlyphs">Nov 12, 2021 21:13 UTC</text>
<text x="18.4" y="45.7" font-size="12" fill="#2b2f39" textLength="110.5" lengthAdjust="spacingAndGlyphs">Bitcoin / U.S. Dollar,</text>
<text x="134.8" y="45.7" font-size="12" fill="#2b2f39" textLength="15.7" lengthAdjust="spacingAndGlyphs">1D,</text>
<text x="154.3" y="45.7" font-size="12" fill="#2b2f39" textLength="52.9" lengthAdjust="spacingAndGlyphs">COINBASE</text>
<text x="216.9" y="45.7" font-size="12" fill="#2b2f39" textLength="7.2" lengthAdjust="spacingAndGlyphs">O</text>
<text x="224.6" y="45.7" font-size="12" fill="#ef5350" textLength="45.7" lengthAdjust="spacingAndGlyphs">64807.73</text>
<text x="279.5" y="45.7" font-size="12" fill="#2b2f39" textLength="6.8" lengthAdjust="spacingAndGlyphs">H</text>
<text x="286.9" y="45.7" font-size="12" fill="#ef5350" textLength="45.2" lengthAdjust="spacingAndGlyphs">65477.06</text>
<text x="341.8" y="45.7" font-size="12" fill="#2b2f39" textLength="5.0" lengthAdjust="spacingAndGlyphs">L</text>
<text x="347.1" y="45.7" font-size="12" fill="#ef5350" textLength="44.8" lengthAdjust="spacingAndGlyphs">62300.00</text>
<text x="401.0" y="45.7" font-size="12" fill="#2b2f39" textLength="6.4" lengthAdjust="spacingAndGlyphs">C</text>
<text x="407.8" y="45.7" font-size="12" fill="#ef5350" textLength="45.7" lengthAdjust="spacingAndGlyphs">64286.97</text>
<text x="461.9" y="45.7" font-size="12" fill="#ef5350" textLength="86.5" lengthAdjust="spacingAndGlyphs">−520.62 (−0.80%)</text>
<text x="18.4" y="62.3" font-size="12" fill="#2b2f39" textLength="16.0" lengthAdjust="spacingAndGlyphs">Vol</text>
<text x="42.7" y="62.3" font-size="12" fill="#ef5350" textLength="39.5" lengthAdjust="spacingAndGlyphs">12.585K</text>
<text x="18.4" y="79.8" font-size="12" fill="#2b2f39" textLength="70.8" lengthAdjust="spacingAndGlyphs">MA (9, close)</text>
<text x="97.6" y="79.8" font-size="12" fill="#f44336" textLength="45.4" lengthAdjust="spacingAndGlyphs">63977.26</text>
<text x="18.4" y="96.5" font-size="12" fill="#2b2f39" textLength="76.6" lengthAdjust="spacingAndGlyphs">MA (21, close)</text>
<text x="103.7" y="96.5" font-size="12" fill="#388e3c" textLength="45.6" lengthAdjust="spacingAndGlyphs">62527.73</text>
<text x="18.4" y="113.5" font-size="12" fill="#2b2f39" textLength="16.0" lengthAdjust="spacingAndGlyphs">Vol</text>
<text x="42.7" y="113.5" font-size="12" fill="#ef5350" textLength="39.5" lengthAdjust="spacingAndGlyphs">12.585K</text>
<text x="18.5" y="405.8" font-size="12" fill="#2b2f39" textLength="75.5" lengthAdjust="spacingAndGlyphs">RSI (14, close)</text>
<text x="103.0" y="405.8" font-size="12" fill="#8e1599" textLength="28.5" lengthAdjust="spacingAndGlyphs">57.37</text>
<g fill="#181c27"><path d="M10 528.1 H17.8 V537.6 H14 V531.8 H10 Z"/><circle cx="20.6" cy="530" r="1.7"/><path d="M24.05 528.1 H29.6 L25.8 537.6 H21.2 Z"/></g>
<text x="33" y="537.5" font-size="12" fill="#2b2f39" textLength="70.6" lengthAdjust="spacingAndGlyphs">TradingView</text>
</svg>
</body></html>
